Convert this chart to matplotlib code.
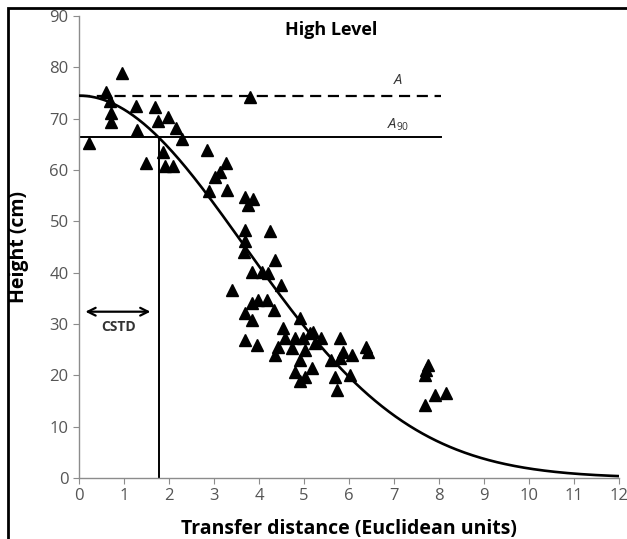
import numpy as np
import matplotlib
matplotlib.use("Agg")
import matplotlib.pyplot as plt
from matplotlib.patches import Rectangle

plt.rcParams['font.family'] = ['Open Sans', 'DejaVu Sans']
plt.rcParams['mathtext.fontset'] = 'custom'
plt.rcParams['mathtext.it'] = 'Open Sans:italic'
plt.rcParams['mathtext.rm'] = 'Open Sans'

# Observed data (transfer distance, height)
dist = [0.23, 0.96, 0.61, 0.69, 0.71, 0.71, 1.27, 1.30, 1.48, 1.70, 1.76, 1.98, 2.15, 2.30,
        1.86, 1.91, 2.08, 3.81, 2.85, 3.26, 3.13, 3.02, 2.89, 3.28, 3.70, 3.87, 3.76,
        3.70, 4.24, 3.69, 3.67, 4.36, 3.84, 4.06, 4.21, 4.50, 3.39, 3.98, 4.17, 3.84,
        3.69, 4.34, 3.84, 4.91, 4.54, 5.21, 3.70, 3.95, 4.58, 4.80, 4.98, 5.39, 5.80,
        4.43, 4.73, 4.36, 5.02, 5.24, 6.43, 5.87, 6.06, 5.80, 5.61, 4.91, 5.17, 4.80,
        5.69, 6.02, 4.91, 5.73, 5.02, 7.76, 7.72, 7.69, 7.91, 8.16, 7.69, 6.39, 5.13]
height = [65.2, 78.9, 75.3, 73.4, 71.1, 69.3, 72.4, 67.8, 61.3, 72.2, 69.5, 70.4, 68.2, 66.0,
          63.6, 60.7, 60.7, 74.2, 63.9, 61.3, 59.7, 58.6, 55.9, 56.1, 54.8, 54.3, 53.2,
          48.3, 48.2, 46.1, 44.1, 42.5, 40.2, 40.2, 40.0, 37.6, 36.6, 34.7, 34.7, 34.1,
          32.1, 32.7, 30.8, 31.1, 29.2, 28.5, 26.9, 25.9, 27.2, 27.2, 27.2, 27.2, 27.2,
          25.6, 25.3, 24.0, 25.0, 26.3, 24.6, 24.6, 24.0, 23.3, 23.0, 23.0, 21.4, 20.7,
          19.7, 20.1, 18.8, 17.2, 19.7, 22.0, 21.1, 20.1, 16.2, 16.5, 14.2, 25.6, 28.2]

# Fitted Gaussian model parameters
A_max = 74.5        # asymptote A
sigma = 3.68        # spread of the fitted curve
A90 = 66.5          # 90% level
cstd = 1.77         # critical seed transfer distance
ref_line_end = 8.05

x_ticks = list(range(0, 13))
y_ticks = list(range(0, 91, 10))

fig = plt.figure(figsize=(6.27, 5.39), dpi=100)
ax = fig.add_axes([0.126, 0.1132, 0.861, 0.857])

xc = np.linspace(0, 12, 400)
ax.plot(xc, A_max * np.exp(-xc**2 / (2 * sigma**2)), color='black', lw=1.9, zorder=3)

ax.plot([0, ref_line_end], [A_max, A_max], color='black', lw=1.6, dashes=(5, 3), zorder=2)
ax.plot([0, ref_line_end], [A90, A90], color='black', lw=1.4, zorder=2)
ax.plot([cstd, cstd], [0, A90], color='black', lw=1.4, zorder=2)

ax.plot(dist, height, linestyle='none', marker='^', color='black', markersize=8.5, zorder=4)

ax.text(7.1, 77.4, r'$\mathit{A}$', ha='center', va='center', fontsize=10.5, color='#333333')
ax.text(7.1, 68.8, r'$\mathit{A}_{\mathit{90}}$', ha='center', va='center', fontsize=10.5, color='#333333')
ax.text(5.6, 87.3, 'High Level', ha='center', va='center', fontsize=13, fontweight='bold')

ax.annotate('', xy=(0.08, 32.4), xytext=(1.65, 32.4),
            arrowprops=dict(arrowstyle='<->', color='black', lw=1.6, mutation_scale=14))
ax.text(0.87, 29.5, 'CSTD', ha='center', va='center', fontsize=10, fontweight='bold', color='#333333')

ax.set_xlim(0, 12)
ax.set_ylim(0, 90)
ax.set_xticks(x_ticks)
ax.set_yticks(y_ticks)
for s in ['top', 'right']:
    ax.spines[s].set_visible(False)
for s in ['left', 'bottom']:
    ax.spines[s].set_color('#8c8c8c')
    ax.spines[s].set_linewidth(1.0)
ax.tick_params(axis='both', colors='#8c8c8c', labelcolor='#555555', labelsize=12,
               length=4, direction='out')
ax.set_xlabel('Transfer distance (Euclidean units)', fontsize=14, fontweight='bold')
ax.set_ylabel('Height (cm)', fontsize=14, fontweight='bold')
ax.xaxis.set_label_coords(0.5, -0.088)
ax.yaxis.set_label_coords(-0.092, 0.5)

# figure border (top and left edges visible)
fig.patches.append(Rectangle((8 / 627, -0.1), 1.2, 1 - 8 / 539 + 0.1, transform=fig.transFigure,
                             fill=False, edgecolor='black', lw=2.0, zorder=10))

fig.savefig('out.png', dpi=100)
